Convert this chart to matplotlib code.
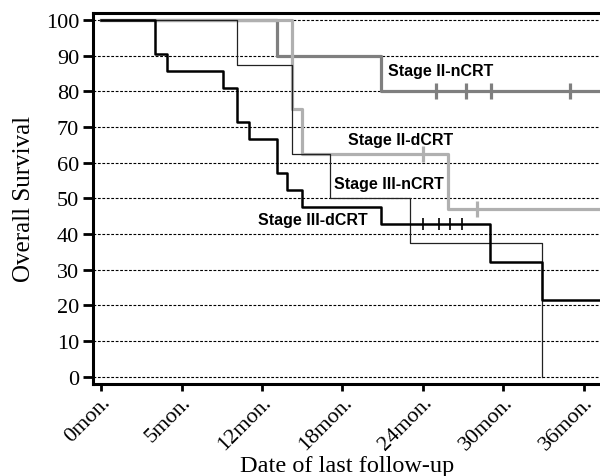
import matplotlib
matplotlib.use("Agg")
import matplotlib.pyplot as plt

# survival curves (months, %)
iii_d_t = [0, 4.0, 4.9, 9.1, 10.1, 11.0, 13.1, 13.9, 15.0, 20.9, 29.0, 32.9, 37.2]
iii_d_s = [100, 90.5, 85.7, 81.0, 71.4, 66.7, 57.1, 52.4, 47.6, 42.9, 32.1, 21.4, 21.4]
iii_d_cens_t = [24.0, 25.2, 26.0, 26.9]

iii_n_t = [0, 10.1, 14.2, 17.1, 23.0, 32.9]
iii_n_s = [100, 87.5, 62.5, 50.0, 37.5, 0]

ii_n_t = [0, 13.1, 20.9, 37.2]
ii_n_s = [100, 90.0, 80.0, 80.0]
ii_n_cens_t = [25.0, 27.2, 29.1, 35.0]

ii_d_t = [0, 14.2, 15.0, 25.9, 37.2]
ii_d_s = [100, 75.0, 62.5, 46.9, 46.9]
ii_d_cens_t = [24.0, 28.0]
ii_d_cens_s = [62.5, 46.9]

xticks = [0, 6, 12, 18, 24, 30, 36]
xlabels = ['0mon.', '5mon.', '12mon.', '18mon.', '24mon.', '30mon.', '36mon.']

serif = 'Liberation Serif'
sans = 'Liberation Sans'

fig = plt.figure(figsize=(6, 4.77), dpi=100)
ax = fig.add_axes([0.155, 0.193, 0.845, 0.778])

for v in range(0, 101, 10):
    ax.axhline(v, color='black', lw=0.8, ls=(0, (2.5, 1.5)), zorder=1)

ax.step(ii_n_t, ii_n_s, where='post', color='#7f7f7f', lw=2.3, zorder=3)
ax.plot(ii_n_cens_t, [80] * len(ii_n_cens_t), '|', color='#7f7f7f', ms=11, mew=2.3, zorder=3)
ax.step(ii_d_t, ii_d_s, where='post', color='#b0b0b0', lw=2.3, zorder=4)
ax.plot(ii_d_cens_t, ii_d_cens_s, '|', color='#b0b0b0', ms=11, mew=2.3, zorder=4)
ax.step(iii_n_t, iii_n_s, where='post', color='#222222', lw=0.9, zorder=5)
ax.step(iii_d_t, iii_d_s, where='post', color='black', lw=1.8, zorder=6)
ax.plot(iii_d_cens_t, [42.9] * len(iii_d_cens_t), '|', color='black', ms=9, mew=1.2, zorder=6)

ax.text(21.4, 85.7, 'Stage II-nCRT', fontsize=11.5, fontweight='bold', family=sans, va='center')
ax.text(18.4, 66.4, 'Stage II-dCRT', fontsize=11.5, fontweight='bold', family=sans, va='center')
ax.text(17.4, 54.3, 'Stage III-nCRT', fontsize=11.5, fontweight='bold', family=sans, va='center')
ax.text(11.7, 44.0, 'Stage III-dCRT', fontsize=11.5, fontweight='bold', family=sans, va='center')

ax.set_xlim(-0.6, 37.2)
ax.set_ylim(-2, 102)
ax.set_yticks(range(0, 101, 10))
ax.set_yticklabels([str(v) for v in range(0, 101, 10)], family=serif, fontsize=16)
ax.set_xticks(xticks)
ax.set_xticklabels(xlabels, rotation=45, ha='right', va='top', rotation_mode='anchor',
                   family=serif, fontsize=16)
ax.tick_params(axis='y', length=7, width=2, pad=3)
ax.tick_params(axis='x', length=5, width=2, pad=1)

for s in ['left', 'bottom', 'top']:
    ax.spines[s].set_linewidth(2.2)
ax.spines['right'].set_visible(False)

ax.set_ylabel('Overall Survival', family=serif, fontsize=18, labelpad=8)
fig.text(0.579, 0.011, 'Date of last follow-up', family=serif, fontsize=17.5,
         ha='center', va='baseline')

fig.savefig('out.png', dpi=100)
